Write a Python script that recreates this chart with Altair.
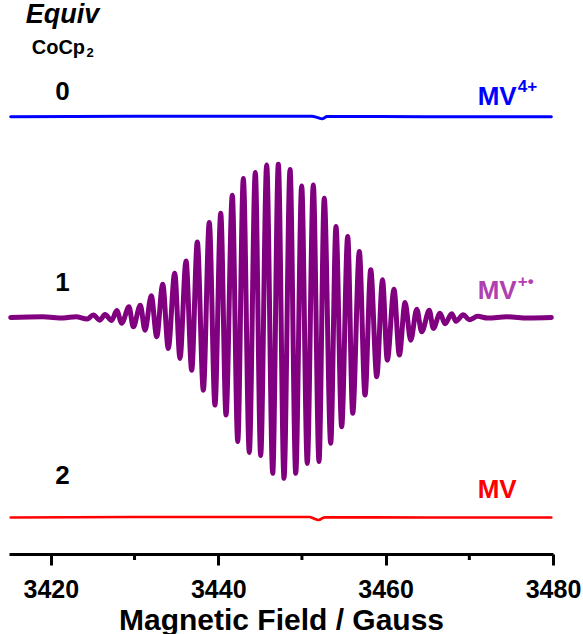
import altair as alt
import pandas as pd

# ---- EPR spectra of methyl viologen after 0, 1 and 2 equiv CoCp2 ----
# Field in Gauss, signal in arbitrary derivative-intensity units.

# 0 equiv: MV4+ (EPR silent, one small cavity feature)
MV4_FIELD = [3415.2, 3430.0, 3445.0, 3451.2, 3451.9, 3452.4, 3453.0, 3465.0, 3479.8]
MV4_SIGNAL = [0.0, 0.003, 0.002, 0.003, -0.006, -0.013, 0.001, 0.0, 0.0]

# 1 equiv: MV+• radical, hyperfine-split derivative spectrum (turning points)
RAD_FIELD = [
    3415.2, 3419.0, 3421.5, 3423.0, 3424.32,
    3425.07, 3425.87, 3426.47, 3427.27, 3427.87, 3428.47, 3429.34, 3429.85,
    3430.69, 3431.25, 3432.00, 3432.65, 3433.37, 3434.03, 3434.80, 3435.43,
    3436.15, 3436.83, 3437.50, 3438.22, 3438.93, 3439.61, 3440.30, 3440.93,
    3441.68, 3442.33, 3443.00, 3443.71, 3444.43, 3445.07, 3445.79, 3446.51,
    3447.18, 3447.86, 3448.58, 3449.26, 3449.97, 3450.64, 3451.36, 3452.04,
    3452.67, 3453.44, 3454.07, 3454.75, 3455.47, 3456.07, 3456.86, 3457.54,
    3458.22, 3458.94, 3459.63, 3460.20, 3461.00, 3461.64, 3462.32, 3463.00,
    3463.72, 3464.31, 3465.22, 3465.70, 3466.50, 3467.10, 3467.90, 3468.41,
    3469.28, 3470.00,
    3471.0, 3472.2, 3474.5, 3477.0, 3479.8,
]
RAD_SIGNAL = [
    0.0, 0.004, -0.003, 0.005, -0.010,
    0.015, -0.017, 0.019, -0.019, 0.044, -0.036, 0.067, -0.059,
    0.077, -0.080, 0.137, -0.121, 0.210, -0.195, 0.279, -0.258,
    0.356, -0.332, 0.476, -0.458, 0.598, -0.552, 0.656, -0.615,
    0.770, -0.782, 0.875, -0.850, 0.913, -0.870, 0.961, -0.982,
    0.965, -1.013, 0.933, -0.982, 0.829, -0.919, 0.835, -0.908,
    0.751, -0.793, 0.573, -0.688, 0.510, -0.604, 0.415, -0.489,
    0.300, -0.373, 0.237, -0.269, 0.178, -0.237, 0.094, -0.143,
    0.052, -0.090, 0.045, -0.069, 0.027, -0.040, 0.023, -0.023,
    0.017, -0.014,
    0.007, -0.004, 0.004, -0.003, 0.0,
]

# 2 equiv: neutral MV (EPR silent)
MV0_FIELD = [3415.2, 3430.0, 3445.0, 3450.9, 3451.5, 3452.0, 3452.7, 3465.0, 3479.8]
MV0_SIGNAL = [0.0, 0.003, 0.003, 0.003, -0.008, -0.016, 0.001, 0.0, 0.0]

MINOR_TICKS = [3430, 3450, 3470]

# vertical stacking of the three traces
OFFSETS = {"MV4+": 1.265, "MV+•": 0.0, "MV": -1.26}
COLORS = {"MV4+": "#0000FF", "MV+•": "#800080", "MV": "#FF0000"}
WIDTHS = {"MV4+": 3.0, "MV+•": 5.0, "MV": 2.6}

W, H = 544, 554
FONT = "Liberation Sans"

x_scale = alt.Scale(domain=[3415, 3480], nice=False, zero=False)
y_scale = alt.Scale(domain=[-1.49, 2.0], nice=False, zero=False)


def trace(name, field, signal):
    df = pd.DataFrame({"field": field, "signal": signal})
    df["y"] = df["signal"] + OFFSETS[name]
    return (
        alt.Chart(df)
        .mark_line(color=COLORS[name], strokeWidth=WIDTHS[name],
                   interpolate="monotone", strokeJoin="round", strokeCap="round")
        .encode(
            x=alt.X("field:Q", scale=x_scale,
                    axis=alt.Axis(values=[3420, 3440, 3460, 3480], title="Magnetic Field / Gauss",
                                  format="d", grid=False, domainColor="black", domainWidth=3,
                                  tickColor="black", tickWidth=3, tickSize=11,
                                  labelFont=FONT, labelFontSize=25, labelFontWeight="bold",
                                  labelColor="black", labelPadding=12, labelFlush=False,
                                  titleFont=FONT, titleFontSize=30, titleFontWeight="bold",
                                  titleColor="black", titlePadding=3)),
            y=alt.Y("y:Q", scale=y_scale, axis=None),
        )
    )


blue = trace("MV4+", MV4_FIELD, MV4_SIGNAL)
purple = trace("MV+•", RAD_FIELD, RAD_SIGNAL)
red = trace("MV", MV0_FIELD, MV0_SIGNAL)

minor = (
    alt.Chart(pd.DataFrame({"field": MINOR_TICKS}))
    .mark_rule(color="black", strokeWidth=3)
    .encode(x=alt.X("field:Q", scale=x_scale), y=alt.value(H), y2=alt.value(H + 6))
)


def label(text, x, y, size, color="black", align="center", style="normal", weight="bold"):
    return (
        alt.Chart(pd.DataFrame({"x": [x], "y": [y], "t": [text]}))
        .mark_text(font=FONT, fontSize=size, fontWeight=weight, fontStyle=style,
                   color=color, align=align, baseline="middle")
        .encode(x=alt.X("x:Q", scale=x_scale), y=alt.Y("y:Q", scale=y_scale), text="t:N")
    )


labels = [
    label("Equiv", 3421.4, 1.905, 27, style="italic"),
    label("CoCp", 3420.9, 1.70, 20),
    label("2", 3424.7, 1.665, 13),
    label("0", 3421.4, 1.42, 26),
    label("1", 3421.4, 0.22, 26),
    label("2", 3421.4, -1.0, 26),
    label("MV", 3471.0, 1.39, 26, color="#0000FF", align="left"),
    label("4+", 3475.8, 1.45, 17, color="#0000FF", align="left"),
    label("MV", 3471.0, 0.165, 26, color="#B040B0", align="left"),
    label("+•", 3475.8, 0.225, 17, color="#B040B0", align="left"),
    label("MV", 3471.0, -1.085, 26, color="#FF0000", align="left"),
]

chart = (
    alt.layer(blue, purple, red, minor, *labels)
    .properties(width=W, height=H, background="white",
                padding={"left": 9, "top": 0, "right": 30, "bottom": 80},
                autosize=alt.AutoSizeParams(type="none"))
    .configure_view(stroke=None)
)

chart.save("out.html", embed_options={"renderer": "svg", "actions": False})
